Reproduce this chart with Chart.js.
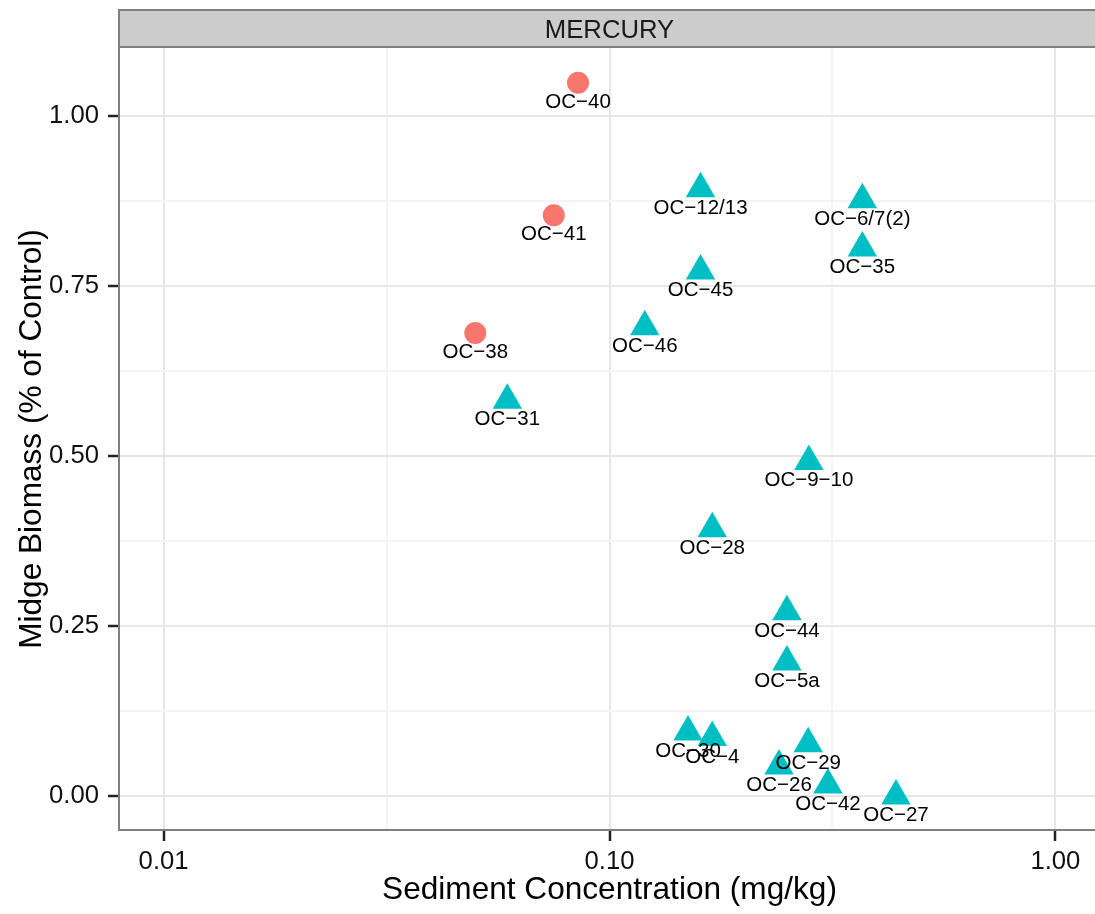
<!DOCTYPE html>
<html>
<head>
<meta charset="utf-8">
<title>MERCURY - Midge Biomass vs Sediment Concentration</title>
<script src="https://cdn.jsdelivr.net/npm/chart.js@4.4.1/dist/chart.umd.min.js"></script>
<style>
    html, body { margin: 0; padding: 0; background: #ffffff; overflow: hidden; }
    #wrap { width: 1100px; height: 914px; }
</style>
</head>
<body>
<div id="wrap"><canvas id="chart" width="1100" height="914"></canvas></div>
<script>
// --- data ---
const facetTitle = 'MERCURY';

// group drawn as circles
const circleSites = ['OC\u221240', 'OC\u221241', 'OC\u221238'];
const circleConc = [0.085, 0.075, 0.050];
const circleBiomass = [1.049, 0.854, 0.681];

// group drawn as triangles
const triangleSites = ['OC\u221212/13', 'OC\u22126/7(2)', 'OC\u221235', 'OC\u221245', 'OC\u221246', 'OC\u221231',
    'OC\u22129\u221210', 'OC\u221228', 'OC\u221244', 'OC\u22125a', 'OC\u221230', 'OC\u22124',
    'OC\u221229', 'OC\u221226', 'OC\u221242', 'OC\u221227'];
const triangleConc = [0.160, 0.369, 0.369, 0.160, 0.120, 0.059,
    0.280, 0.170, 0.250, 0.250, 0.150, 0.170,
    0.279, 0.240, 0.309, 0.439];
const triangleBiomass = [0.893, 0.877, 0.806, 0.772, 0.690, 0.582,
    0.492, 0.393, 0.271, 0.197, 0.094, 0.086,
    0.077, 0.044, 0.016, 0.000];

// axes
const xMin = Math.pow(10, -2.1);
const xMax = Math.pow(10, 0.1);
const xMajorTicks = [0.01, 0.1, 1];
const xMajorLabels = ['0.01', '0.10', '1.00'];
const xMinorTicks = [0.0316228, 0.316228];

const yMin = -0.05;
const yMax = 1.1;
const yMajorTicks = [0, 0.25, 0.5, 0.75, 1];
const yMajorLabels = ['0.00', '0.25', '0.50', '0.75', '1.00'];
const yMinorTicks = [0.125, 0.375, 0.625, 0.875];

const FONT = '"Liberation Sans", Arial, Helvetica, sans-serif';
const MAJOR_GRID = '#E6E6E6';
const MINOR_GRID = '#F4F4F4';

function findIndex(list, v, logScale) {
    for (let i = 0; i < list.length; i++) {
        const d = logScale ? Math.abs(Math.log10(list[i]) - Math.log10(v)) : Math.abs(list[i] - v);
        if (d < 1e-6) return i;
    }
    return -1;
}

function toPoints(xs, ys) {
    return xs.map((x, i) => ({ x: x, y: ys[i] }));
}

// grey facet strip above the panel
const facetStrip = {
    id: 'facetStrip',
    afterDraw(chart) {
        const { ctx, chartArea } = chart;
        ctx.save();
        ctx.fillStyle = '#CCCCCC';
        ctx.strokeStyle = '#7F7F7F';
        ctx.lineWidth = 2;
        const left = chartArea.left;
        const top = 10;
        const w = chartArea.right - left + 4;
        const h = 37;
        ctx.fillRect(left, top, w, h);
        ctx.strokeRect(left, top, w, h);
        ctx.fillStyle = '#1a1a1a';
        ctx.font = '25.7px ' + FONT;
        ctx.textAlign = 'center';
        ctx.textBaseline = 'alphabetic';
        ctx.fillText(facetTitle, (chartArea.left + chartArea.right) / 2, 37.5);
        ctx.restore();
    }
};

// site names under each point
const pointLabels = {
    id: 'pointLabels',
    afterDatasetsDraw(chart) {
        const ctx = chart.ctx;
        ctx.save();
        ctx.font = '20.5px ' + FONT;
        ctx.fillStyle = '#000000';
        ctx.textAlign = 'center';
        ctx.textBaseline = 'alphabetic';
        chart.data.datasets.forEach((ds, i) => {
            chart.getDatasetMeta(i).data.forEach((pt, j) => {
                ctx.fillText(ds.siteNames[j], pt.x, pt.y + 25);
            });
        });
        ctx.restore();
    }
};

const ctx = document.getElementById('chart').getContext('2d');
new Chart(ctx, {
    type: 'scatter',
    data: {
        datasets: [{
            label: 'circles',
            siteNames: circleSites,
            data: toPoints(circleConc, circleBiomass),
            pointStyle: 'circle',
            pointRadius: 11,
            pointHoverRadius: 11,
            backgroundColor: '#F8766D',
            borderWidth: 0
        }, {
            label: 'triangles',
            siteNames: triangleSites,
            data: toPoints(triangleConc, triangleBiomass),
            pointStyle: 'triangle',
            pointRadius: 17,
            pointHoverRadius: 17,
            backgroundColor: '#00BFC4',
            borderWidth: 0
        }]
    },
    options: {
        responsive: false,
        animation: false,
        events: [],
        layout: {
            autoPadding: false,
            padding: { left: 0, right: 0, top: 48, bottom: 0 }
        },
        plugins: {
            legend: { display: false },
            tooltip: { enabled: false }
        },
        scales: {
            x: {
                type: 'logarithmic',
                position: 'bottom',
                min: xMin,
                max: xMax,
                afterBuildTicks: scale => {
                    scale.ticks = xMajorTicks.concat(xMinorTicks)
                        .sort((a, b) => a - b)
                        .map(v => ({ value: v }));
                },
                afterFit: scale => {
                    scale.height = 84;
                    scale.paddingLeft = 0;
                    scale.paddingRight = 0;
                },
                ticks: {
                    autoSkip: false,
                    maxRotation: 0,
                    minRotation: 0,
                    padding: 5,
                    color: '#111111',
                    font: { family: FONT, size: 25.7 },
                    callback: value => {
                        const i = findIndex(xMajorTicks, value, true);
                        return i >= 0 ? xMajorLabels[i] : '';
                    }
                },
                grid: {
                    lineWidth: 2,
                    color: c => findIndex(xMajorTicks, c.tick.value, true) >= 0 ? MAJOR_GRID : MINOR_GRID,
                    drawTicks: true,
                    tickLength: 11,
                    tickWidth: 2.5,
                    tickColor: c => findIndex(xMajorTicks, c.tick.value, true) >= 0 ? '#222222' : 'rgba(0,0,0,0)'
                },
                border: { display: true, color: '#7F7F7F', width: 2 },
                title: {
                    display: true,
                    text: 'Sediment Concentration (mg/kg)',
                    color: '#000000',
                    font: { family: FONT, size: 31.6 },
                    padding: { top: 0, bottom: 5 }
                }
            },
            y: {
                type: 'linear',
                position: 'left',
                min: yMin,
                max: yMax,
                afterBuildTicks: scale => {
                    scale.ticks = yMajorTicks.concat(yMinorTicks)
                        .sort((a, b) => a - b)
                        .map(v => ({ value: v }));
                },
                afterFit: scale => {
                    scale.width = 119;
                    scale.paddingTop = 0;
                    scale.paddingBottom = 0;
                },
                ticks: {
                    autoSkip: false,
                    padding: 9,
                    color: '#111111',
                    font: { family: FONT, size: 25.7 },
                    callback: value => {
                        const i = findIndex(yMajorTicks, value, false);
                        return i >= 0 ? yMajorLabels[i] : '';
                    }
                },
                grid: {
                    lineWidth: 2,
                    color: c => findIndex(yMajorTicks, c.tick.value, false) >= 0 ? MAJOR_GRID : MINOR_GRID,
                    drawTicks: true,
                    tickLength: 11,
                    tickWidth: 2.5,
                    tickColor: c => findIndex(yMajorTicks, c.tick.value, false) >= 0 ? '#222222' : 'rgba(0,0,0,0)'
                },
                border: { display: true, color: '#7F7F7F', width: 2 },
                title: {
                    display: true,
                    text: 'Midge Biomass (% of Control)',
                    color: '#000000',
                    font: { family: FONT, size: 31.6 },
                    padding: { top: 13, bottom: 0 }
                }
            }
        }
    },
    plugins: [pointLabels, facetStrip]
});
</script>
</body>
</html>
